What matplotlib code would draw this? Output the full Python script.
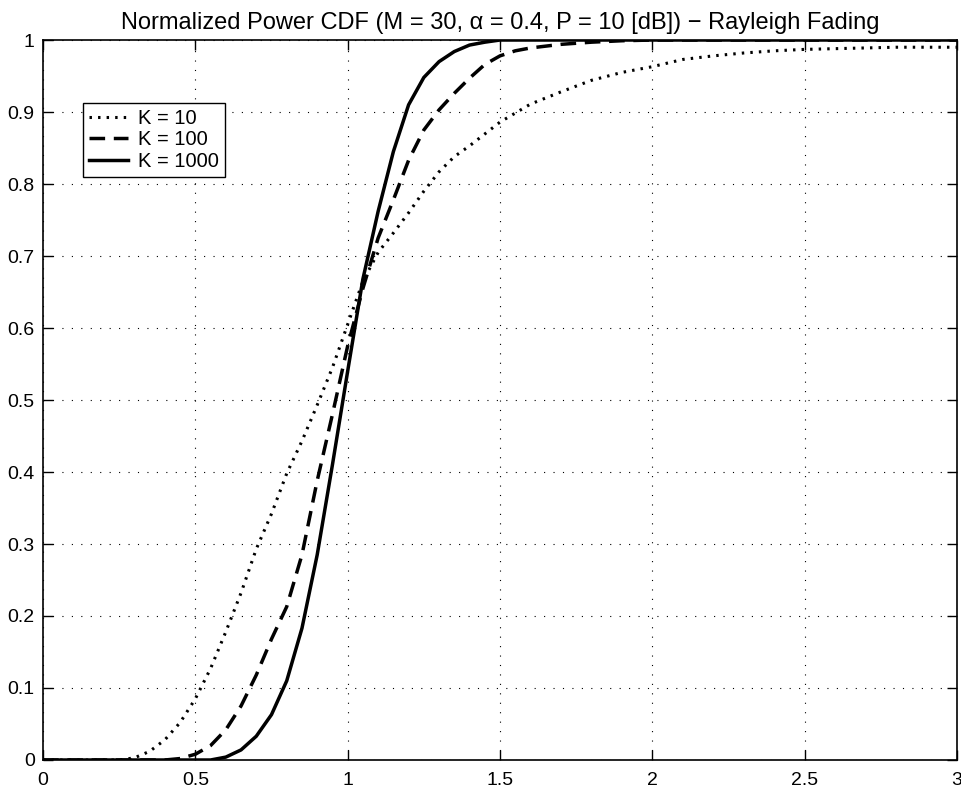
import numpy as np
import matplotlib
matplotlib.use('Agg')
import matplotlib.pyplot as plt

plt.rcParams['font.family'] = ['Liberation Sans', 'DejaVu Sans']

# K = 10 (dotted)
x_k10 = [0, 0.25, 0.3, 0.35, 0.4, 0.45, 0.5, 0.55, 0.6, 0.65, 0.7, 0.75, 0.8, 0.85,
         0.9, 0.95, 1.0, 1.05, 1.1, 1.15, 1.2, 1.25, 1.3, 1.35, 1.4, 1.5, 1.6, 1.7,
         1.8, 1.9, 2.0, 2.1, 2.2, 2.3, 2.4, 2.5, 2.6, 2.7, 2.8, 2.9, 3.0]
y_k10 = [0, 0.0, 0.003, 0.012, 0.028, 0.052, 0.085, 0.127, 0.178, 0.232, 0.293, 0.342,
         0.398, 0.443, 0.493, 0.545, 0.605, 0.665, 0.705, 0.732, 0.760, 0.790, 0.817,
         0.838, 0.853, 0.886, 0.911, 0.928, 0.944, 0.955, 0.963, 0.973, 0.978, 0.982,
         0.985, 0.987, 0.988, 0.989, 0.990, 0.990, 0.990]

# K = 100 (dashed)
x_k100 = [0, 0.4, 0.45, 0.5, 0.55, 0.6, 0.65, 0.7, 0.75, 0.8, 0.85, 0.9, 0.95, 1.0,
          1.05, 1.1, 1.15, 1.2, 1.25, 1.3, 1.35, 1.4, 1.45, 1.5, 1.55, 1.6, 1.7, 1.8,
          1.9, 2.0, 3.0]
y_k100 = [0, 0, 0.002, 0.008, 0.02, 0.042, 0.075, 0.118, 0.168, 0.213, 0.285, 0.388,
          0.48, 0.575, 0.655, 0.725, 0.778, 0.833, 0.875, 0.903, 0.926, 0.947, 0.966,
          0.978, 0.985, 0.989, 0.994, 0.997, 0.999, 1.0, 1.0]

# K = 1000 (solid)
x_k1000 = [0, 0.55, 0.6, 0.65, 0.7, 0.75, 0.8, 0.85, 0.9, 0.95, 1.0, 1.05, 1.1, 1.15,
           1.2, 1.25, 1.3, 1.35, 1.4, 1.45, 1.5, 3.0]
y_k1000 = [0, 0, 0.004, 0.014, 0.033, 0.063, 0.11, 0.183, 0.285, 0.41, 0.54, 0.668,
           0.762, 0.845, 0.91, 0.948, 0.97, 0.984, 0.993, 0.997, 1.0, 1.0]

labels = ['K = 10', 'K = 100', 'K = 1000']

fig = plt.figure(figsize=(9.62, 7.91), dpi=100)
ax = fig.add_axes([0.0447, 0.0392, 0.9501, 0.9102])

ax.plot(x_k10, y_k10, color='black', lw=2.2, linestyle=(0, (0.8, 2.0)), label=labels[0])
ax.plot(x_k100, y_k100, color='black', lw=2.5, linestyle=(0, (4.5, 2.5)), label=labels[1])
ax.plot(x_k1000, y_k1000, color='black', lw=2.5, linestyle='-', label=labels[2])

ax.set_xlim(0, 3)
ax.set_ylim(0, 1)
ax.set_xticks(np.arange(0, 3.01, 0.5))
ax.set_xticklabels(['0', '0.5', '1', '1.5', '2', '2.5', '3'])
ax.set_yticks(np.arange(0, 1.01, 0.1))
ax.set_yticklabels(['0', '0.1', '0.2', '0.3', '0.4', '0.5', '0.6', '0.7', '0.8', '0.9', '1'])

ax.grid(True, color='black', lw=0.8, linestyle=(0, (1, 7.5)))
ax.tick_params(direction='in', length=7, width=1, top=True, right=True,
               labelsize=14, colors='black')
ax.tick_params(axis='x', pad=9)
ax.tick_params(axis='y', pad=6)
for s in ax.spines.values():
    s.set_linewidth(1.2)

ax.set_title('Normalized Power CDF (M = 30, \u03b1 = 0.4, P = 10 [dB]) \u2212 Rayleigh Fading',
             fontsize=17, pad=8)

leg = ax.legend(loc='upper left', bbox_to_anchor=(0.044, 0.9125), fontsize=14.5,
                frameon=True, fancybox=False, framealpha=1, edgecolor='black',
                handlelength=1.9, handletextpad=0.5, labelspacing=0.12,
                borderpad=0.3, borderaxespad=0)
leg.get_frame().set_linewidth(1.0)

plt.savefig('out.png', dpi=100)
